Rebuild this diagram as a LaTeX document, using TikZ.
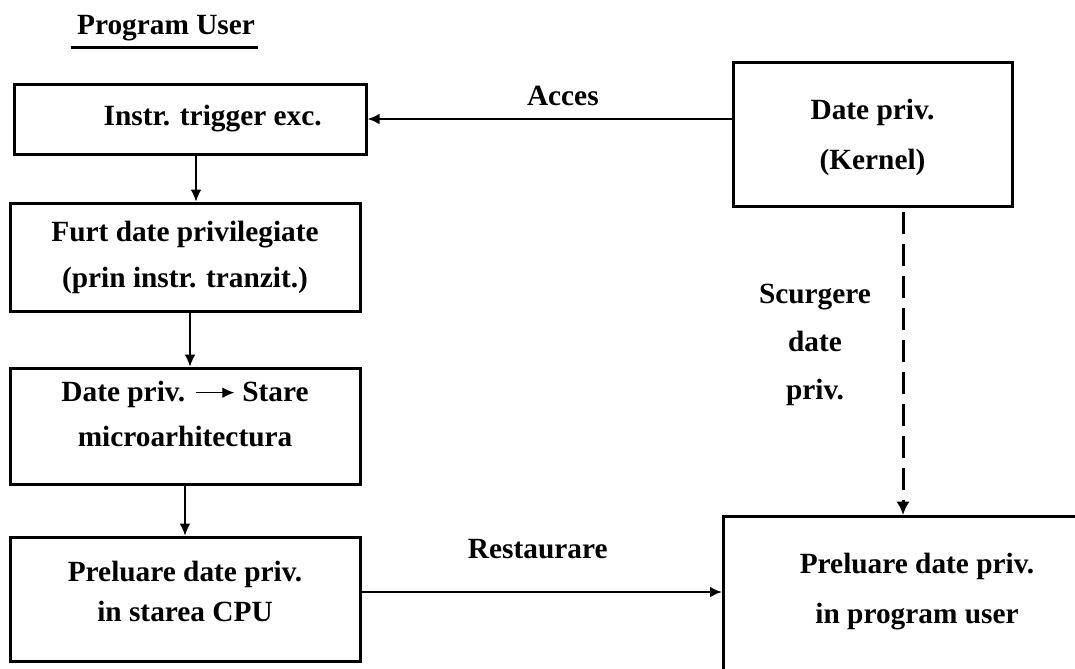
\documentclass[tikz,border=0pt]{standalone}
\usepackage{fontspec}
\setmainfont{Liberation Serif}
\usetikzlibrary{arrows.meta}
\usetikzlibrary{positioning}
\newcommand{\boxtext}[1]{\fontsize{22}{#1}\selectfont\bfseries}
\newcommand{\textarrow}{\tikz[baseline={(0pt,-6.75pt)}]\draw[-{Latex[length=9pt,width=8pt]}, line width=0.9pt] (0pt,0pt) -- (29pt,0pt);}
\tikzset{>={Latex[length=9pt,width=8pt]}}
\tikzset{step-box/.style={draw, line width=2.25pt, align=center, inner sep=0, minimum width=262.5pt, font=\boxtext{34.5}}}
\tikzset{txt-label/.style={inner sep=0, align=center, font=\boxtext{36}}}
\tikzset{flow-line/.style={line width=0.8pt}}
\tikzset{main-line/.style={line width=1.6pt}}
\tikzset{leak-line/.style={line width=2.2pt, dash pattern=on 16.5pt off 7.5pt}}

\begin{document}
\begin{tikzpicture}[x=0.75pt, y=-0.75pt]
    \clip (0,0) rectangle (1075,668);
    \useasboundingbox (0,0) rectangle (1075,668);

    % title
    \node[txt-label] (title) at (166,28) {Program User};
    \draw[line width=2.25pt] ([xshift=-4.5pt, yshift=-5pt]title.south west)
        -- ([xshift=2pt, yshift=-5pt]title.south east);

    % left column
    \node[step-box, minimum width=264pt, minimum height=52.5pt] (trigger) at (190,119)
        {\hspace*{34pt}Instr. trigger exc.};
    \node[step-box, minimum height=81pt, below=34.5pt of trigger, xshift=-3.75pt] (steal)
        {Furt date privilegiate\\(prin instr. tranzit.)};
    \node[step-box, minimum height=87pt, below=40.5pt of steal, font=\boxtext{33.75}, text depth=18pt] (uarch)
        {Date priv. \textarrow\ Stare\\microarhitectura};
    \node[step-box, minimum height=93pt, below=37.5pt of uarch, font=\boxtext{30}, text depth=12pt] (cpu)
        {Preluare date priv.\\in starea CPU};

    % right column
    \node[step-box, minimum width=209.25pt, minimum height=108pt, font=\boxtext{37.5}, text depth=0pt] (kernel) at (872.5,134)
        {Date priv.\\(Kernel)};
    \node[step-box, anchor=north west, minimum width=300pt, minimum height=150pt] (prog) at (722,515) {};
    \node[txt-label, font=\boxtext{37.5}] (progtext) at (917,592) {Preluare date priv.\\in program user};

    \draw[->, flow-line] ([xshift=4.5pt]trigger.south) -- ([xshift=4.5pt]trigger.south |- steal.north);
    \draw[->, flow-line] ([xshift=3.75pt]steal.south) -- ([xshift=3.75pt]steal.south |- uarch.north);
    \draw[->, flow-line] (uarch.south) -- (cpu.north);

    \draw[->, main-line] (kernel.west |- trigger.east) -- (trigger.east)
        node[txt-label, midway, above=9pt, xshift=10pt] (acces) {Acces};
    \draw[->, main-line] ([yshift=5.25pt]cpu.east) -- ([yshift=5.25pt]cpu.east -| prog.west)
        node[txt-label, midway, above=24pt, xshift=-3pt] (restore) {Restaurare};
    \draw[-{Latex[length=10pt,width=10pt]}, leak-line] ([xshift=22.9pt, yshift=-3pt]kernel.south)
        -- ([xshift=22.9pt]kernel.south |- prog.north);
    \node[txt-label] (leak) at (815,345) {Scurgere\\date\\priv.};
\end{tikzpicture}
\end{document}
